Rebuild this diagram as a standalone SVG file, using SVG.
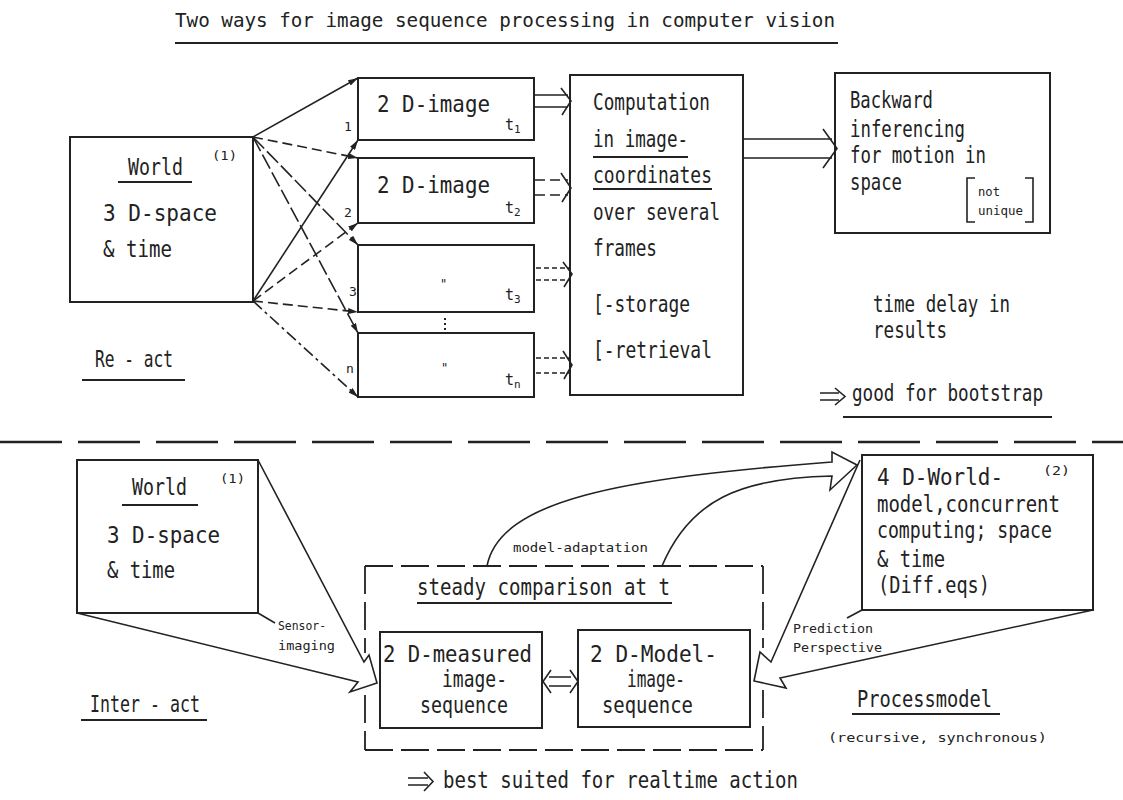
<svg xmlns="http://www.w3.org/2000/svg" width="1123" height="800" viewBox="0 0 1123 800">
<style>
.m{font-family:"DejaVu Sans Mono","Liberation Mono",monospace;font-size:23px;fill:#222}
.s{font-family:"DejaVu Sans Mono","Liberation Mono",monospace;font-size:13px;fill:#222}
.box{fill:none;stroke:#222;stroke-width:2}
.ln{fill:none;stroke:#222;stroke-width:1.6}
.ul{fill:none;stroke:#222;stroke-width:2}
.d1{stroke-dasharray:10 5}
.d2{stroke-dasharray:16 4}
.d3{stroke-dasharray:12 4 3 4}
.d4{stroke-dasharray:5 3}
.dbox{fill:none;stroke:#222;stroke-width:1.8;stroke-dasharray:28 8}
</style>
<defs>
<marker id="ah" viewBox="0 0 10 6" refX="10" refY="3" markerWidth="10" markerHeight="6" markerUnits="userSpaceOnUse" orient="auto"><path d="M0,0 L10,3 L0,6 z" fill="#222"/></marker>
</defs>
<rect width="1123" height="800" fill="#fff"/>

<g id="title">
<text x="175" y="27" class="m" style="font-size:20px" textLength="660" lengthAdjust="spacingAndGlyphs">Two ways for image sequence processing in computer vision</text>
<line x1="175" y1="43" x2="838" y2="43" class="ul" stroke-width="2.5"/>
</g>

<g id="world-top">
<rect x="70" y="137" width="183" height="165" class="box"/>
<text x="128" y="175" class="m" textLength="55" lengthAdjust="spacingAndGlyphs">World</text>
<line x1="118" y1="182" x2="192" y2="182" class="ul"/>
<text x="212" y="160" class="s" textLength="25" lengthAdjust="spacingAndGlyphs">(1)</text>
<text x="103" y="221" class="m" textLength="114" lengthAdjust="spacingAndGlyphs">3 D-space</text>
<text x="103" y="257" class="m" textLength="69" lengthAdjust="spacingAndGlyphs">&amp; time</text>
</g>

<g id="react-label">
<text x="95" y="367" class="m" textLength="78" lengthAdjust="spacingAndGlyphs">Re - act</text>
<line x1="82" y1="380" x2="185" y2="380" class="ul"/>
</g>

<g id="image-1">
<rect x="358" y="78" width="176" height="62" class="box"/>
<text x="377" y="112" class="m" textLength="113" lengthAdjust="spacingAndGlyphs">2 D-image</text>
<text x="505" y="130" class="s" style="font-size:15px">t<tspan dy="3" style="font-size:11px">1</tspan></text>
</g>
<g id="image-2">
<rect x="358" y="158" width="176" height="65" class="box"/>
<text x="377" y="193" class="m" textLength="113" lengthAdjust="spacingAndGlyphs">2 D-image</text>
<text x="505" y="213" class="s" style="font-size:15px">t<tspan dy="3" style="font-size:11px">2</tspan></text>
</g>
<g id="image-3">
<rect x="358" y="245" width="176" height="67" class="box"/>
<text x="440" y="288" class="s" style="font-size:12px">"</text>
<text x="505" y="300" class="s" style="font-size:15px">t<tspan dy="3" style="font-size:11px">3</tspan></text>
</g>
<g id="image-n">
<rect x="358" y="333" width="176" height="64" class="box"/>
<text x="441" y="372" class="s" style="font-size:12px">"</text>
<text x="505" y="385" class="s" style="font-size:15px">t<tspan dy="3" style="font-size:11px">n</tspan></text>
</g>
<line x1="445" y1="318" x2="445" y2="334" stroke="#222" stroke-width="2" stroke-dasharray="2 3"/>

<g id="computation">
<rect x="570" y="75" width="173" height="320" class="box"/>
<text x="593" y="110" class="m" textLength="117" lengthAdjust="spacingAndGlyphs">Computation</text>
<text x="593" y="147" class="m" textLength="95" lengthAdjust="spacingAndGlyphs">in image-</text>
<line x1="593" y1="157" x2="688" y2="157" class="ul"/>
<text x="593" y="183" class="m" textLength="119" lengthAdjust="spacingAndGlyphs">coordinates</text>
<line x1="593" y1="189" x2="712" y2="189" class="ul"/>
<text x="593" y="220" class="m" textLength="127" lengthAdjust="spacingAndGlyphs">over several</text>
<text x="593" y="256" class="m" textLength="64" lengthAdjust="spacingAndGlyphs">frames</text>
<text x="593" y="312" class="m" textLength="97" lengthAdjust="spacingAndGlyphs">[-storage</text>
<text x="593" y="358" class="m" textLength="119" lengthAdjust="spacingAndGlyphs">[-retrieval</text>
</g>

<g id="backward">
<rect x="835" y="73" width="215" height="160" class="box"/>
<text x="850" y="108" class="m" textLength="83" lengthAdjust="spacingAndGlyphs">Backward</text>
<text x="850" y="137" class="m" textLength="115" lengthAdjust="spacingAndGlyphs">inferencing</text>
<text x="850" y="163" class="m" textLength="136" lengthAdjust="spacingAndGlyphs">for motion in</text>
<text x="850" y="190" class="m" textLength="52" lengthAdjust="spacingAndGlyphs">space</text>
<path d="M975,178 L967,178 L967,222 L975,222 M1025,178 L1033,178 L1033,222 L1025,222" class="ln"/>
<text x="978" y="196" class="s" style="font-size:12px" textLength="22" lengthAdjust="spacingAndGlyphs">not</text>
<text x="978" y="215" class="s" style="font-size:12px" textLength="45" lengthAdjust="spacingAndGlyphs">unique</text>
</g>

<g id="note-top">
<text x="873" y="312" class="m" textLength="137" lengthAdjust="spacingAndGlyphs">time delay in</text>
<text x="873" y="338" class="m" textLength="74" lengthAdjust="spacingAndGlyphs">results</text>
<path d="M820,393 L839,393 M820,400 L839,400 M835,388 L845,396.5 L835,405" class="ln"/>
<text x="852" y="401" class="m" textLength="191" lengthAdjust="spacingAndGlyphs">good for bootstrap</text>
<line x1="843" y1="417" x2="1052" y2="417" class="ul"/>
</g>

<line id="separator" x1="0" y1="442" x2="1123" y2="442" stroke="#222" stroke-width="2.5" stroke-dasharray="62 16"/>

<g id="world-bottom">
<rect x="77" y="460" width="181" height="153" class="box"/>
<text x="132" y="495" class="m" textLength="55" lengthAdjust="spacingAndGlyphs">World</text>
<line x1="122" y1="505" x2="198" y2="505" class="ul"/>
<text x="220" y="483" class="s" textLength="25" lengthAdjust="spacingAndGlyphs">(1)</text>
<text x="107" y="543" class="m" textLength="113" lengthAdjust="spacingAndGlyphs">3 D-space</text>
<text x="107" y="578" class="m" textLength="68" lengthAdjust="spacingAndGlyphs">&amp; time</text>
</g>

<g id="interact-label">
<text x="90" y="712" class="m" textLength="110" lengthAdjust="spacingAndGlyphs">Inter - act</text>
<line x1="81" y1="720" x2="207" y2="720" class="ul"/>
</g>

<g id="comparison">
<path d="M365,566 L763,566 M365,750 L763,750 M365,566 L365,653 M365,695 L365,750 M763,566 L763,648 M763,690 L763,750" class="dbox"/>
<text x="417" y="595" class="m" textLength="253" lengthAdjust="spacingAndGlyphs">steady comparison at t</text>
<line x1="417" y1="603" x2="672" y2="603" class="ul"/>
</g>

<g id="measured">
<rect x="380" y="632" width="162" height="96" class="box"/>
<text x="383" y="662" class="m" textLength="149" lengthAdjust="spacingAndGlyphs">2 D-measured</text>
<text x="442" y="687" class="m" textLength="65" lengthAdjust="spacingAndGlyphs">image-</text>
<text x="420" y="713" class="m" textLength="88" lengthAdjust="spacingAndGlyphs">sequence</text>
</g>

<g id="model-image">
<rect x="578" y="630" width="172" height="97" class="box"/>
<text x="590" y="662" class="m" textLength="127" lengthAdjust="spacingAndGlyphs">2 D-Model-</text>
<text x="627" y="687" class="m" textLength="58" lengthAdjust="spacingAndGlyphs">image-</text>
<text x="602" y="713" class="m" textLength="91" lengthAdjust="spacingAndGlyphs">sequence</text>
</g>

<g id="world-model-4d">
<rect x="862" y="455" width="231" height="155" class="box"/>
<text x="877" y="485" class="m" textLength="126" lengthAdjust="spacingAndGlyphs">4 D-World-</text>
<text x="1043" y="475" class="s" textLength="27" lengthAdjust="spacingAndGlyphs">(2)</text>
<text x="877" y="512" class="m" textLength="183" lengthAdjust="spacingAndGlyphs">model,concurrent</text>
<text x="877" y="538" class="m" textLength="175" lengthAdjust="spacingAndGlyphs">computing; space</text>
<text x="877" y="567" class="m" textLength="68" lengthAdjust="spacingAndGlyphs">&amp; time</text>
<text x="878" y="593" class="m" textLength="112" lengthAdjust="spacingAndGlyphs">(Diff.eqs)</text>
</g>

<g id="processmodel-label">
<text x="857" y="707" class="m" textLength="135" lengthAdjust="spacingAndGlyphs">Processmodel</text>
<line x1="852" y1="714" x2="1000" y2="714" class="ul"/>
<text x="828" y="742" class="s" textLength="219" lengthAdjust="spacingAndGlyphs">(recursive, synchronous)</text>
</g>

<g id="note-bottom">
<path d="M408,778 L428,778 M408,785 L428,785 M424,772 L433,781.5 L424,791" class="ln"/>
<text x="443" y="788" class="m" textLength="355" lengthAdjust="spacingAndGlyphs">best suited for realtime action</text>
</g>

<g id="connectors">
<line x1="253" y1="137" x2="358" y2="78" class="ln" marker-end="url(#ah)"/>
<line x1="253" y1="137" x2="358" y2="158" class="ln d1" marker-end="url(#ah)"/>
<line x1="253" y1="137" x2="358" y2="245" class="ln d2" marker-end="url(#ah)"/>
<line x1="253" y1="137" x2="358" y2="333" class="ln d2" marker-end="url(#ah)"/>
<line x1="253" y1="301" x2="358" y2="140" class="ln" marker-end="url(#ah)"/>
<line x1="253" y1="301" x2="358" y2="223" class="ln d1" marker-end="url(#ah)"/>
<line x1="253" y1="301" x2="358" y2="312" class="ln d1" marker-end="url(#ah)"/>
<line x1="253" y1="301" x2="358" y2="397" class="ln d3" marker-end="url(#ah)"/>
<text x="344" y="131" class="s">1</text>
<text x="344" y="217" class="s">2</text>
<text x="349" y="296" class="s">3</text>
<text x="346" y="373" class="s">n</text>
<path d="M534,95 L568,95 M534,107 L568,107 M561,88 L571,101 L562,115" class="ln"/>
<path d="M535,180 L568,180 M535,195 L568,195" class="ln d1"/>
<path d="M561,173 L571,188 L562,202" class="ln"/>
<path d="M536,268 L569,268 M536,280 L569,280" class="ln d4"/>
<path d="M563,262 L572,274 L564,287" class="ln"/>
<path d="M536,358 L569,358 M536,373 L569,373" class="ln d4"/>
<path d="M563,351 L572,365 L564,379" class="ln"/>
<path d="M743,139 L832,139 M743,158 L832,158 M823,129 L837,148.5 L823,168" class="ln"/>
<path d="M258,460 L364,662 L369,655 L377,683 L350,692 L358,682 L77,613" class="ln"/>
<line x1="258" y1="613" x2="275" y2="623" class="ln" stroke-width="1.2"/>
<text x="278" y="630" class="s" style="font-size:12px" textLength="48" lengthAdjust="spacingAndGlyphs">Sensor-</text>
<text x="278" y="650" class="s" style="font-size:12px" textLength="57" lengthAdjust="spacingAndGlyphs">imaging</text>
<path d="M549,677 L571,677 M549,686 L571,686 M551,670 L543,681.5 L551,693 M570,670 L578,681.5 L570,693" class="ln"/>
<path d="M487,566 C500,500 620,478 832,462 L832,452 L857,465 L830,490 L832,476 C740,478 690,500 662,566" class="ln"/>
<text x="513" y="552" class="s" textLength="135" lengthAdjust="spacingAndGlyphs">model-adaptation</text>
<path d="M860,460 L771,662 L760,652 L754,681 L786,688 L780,678 L1093,610" class="ln"/>
<line x1="862" y1="610" x2="847" y2="618" class="ln" stroke-width="1.2"/>
<text x="793" y="633" class="s" textLength="80" lengthAdjust="spacingAndGlyphs">Prediction</text>
<text x="793" y="652" class="s" textLength="89" lengthAdjust="spacingAndGlyphs">Perspective</text>
</g>
</svg>
